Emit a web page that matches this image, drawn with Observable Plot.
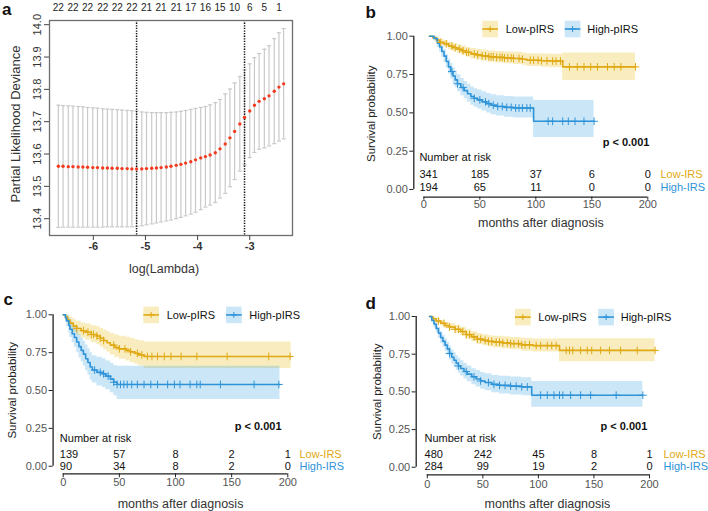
<!DOCTYPE html>
<html><head><meta charset="utf-8">
<script src="https://cdn.jsdelivr.net/npm/d3@7"></script>
<script src="https://cdn.jsdelivr.net/npm/@observablehq/plot@0.6"></script>
<style>
body{margin:0;background:#fff;}
#root{position:relative;width:708px;height:511px;overflow:hidden;font-family:"Liberation Sans",Arial,sans-serif;}
.abs{position:absolute;}
.abs svg{overflow:visible;max-width:none;}
</style></head><body><div id="root"></div>
<script>
// ---------- Panel a: LASSO cross-validation ----------
const logLambda = [-6.67,-6.58,-6.48,-6.39,-6.29,-6.20,-6.11,-6.01,-5.92,-5.82,-5.73,-5.64,-5.54,-5.45,-5.35,-5.26,-5.17,-5.07,-4.98,-4.88,-4.79,-4.70,-4.60,-4.51,-4.41,-4.32,-4.23,-4.13,-4.04,-3.94,-3.85,-3.76,-3.66,-3.57,-3.47,-3.38,-3.29,-3.19,-3.10,-3.00,-2.91,-2.82,-2.72,-2.63,-2.53,-2.44,-2.35];
const cvm = [13.562,13.562,13.561,13.561,13.560,13.560,13.559,13.558,13.558,13.557,13.557,13.556,13.556,13.555,13.555,13.554,13.554,
  13.554,13.555,13.556,13.557,13.558,13.560,13.562,13.565,13.568,13.572,13.576,13.582,13.588,13.592,13.597,13.604,13.616,13.631,13.650,13.670,13.693,13.713,13.733,13.751,13.763,13.771,13.780,13.794,13.807,13.817];
const cvup = [13.751,13.750,13.749,13.748,13.747,13.746,13.744,13.743,13.742,13.740,13.739,13.738,13.737,13.736,13.735,13.734,13.733,
  13.730,13.729,13.728,13.728,13.728,13.728,13.729,13.730,13.732,13.735,13.738,13.741,13.744,13.747,13.752,13.759,13.769,13.786,13.801,13.820,13.840,13.861,13.879,13.898,13.911,13.924,13.935,13.957,13.975,13.988];
const cvlo = [13.373,13.374,13.374,13.374,13.374,13.374,13.374,13.374,13.374,13.374,13.375,13.375,13.375,13.375,13.375,13.375,13.376,
  13.378,13.381,13.384,13.387,13.390,13.393,13.396,13.400,13.404,13.409,13.414,13.420,13.428,13.436,13.442,13.450,13.464,13.478,13.499,13.521,13.547,13.566,13.589,13.605,13.615,13.619,13.625,13.632,13.640,13.647];
const nzLabels = [22,22,22,22,22,22,21,21,21,17,16,15,10,6,5,1];
const nzIndex = [0,3,6,9,12,15,18,21,24,27,30,33,36,39,42,45];
const lambdaMin = -5.17, lambda1se = -3.10;
const yTicksA = [13.4,13.5,13.6,13.7,13.8,13.9,14.0];
const xTicksA = [-6,-5,-4,-3];

// ---------- Panels b-d: Kaplan-Meier ----------
const groups = ["Low-pIRS","High-pIRS"];
const riskGroups = ["Low-IRS","High-IRS"];
const riskTimes = [0,50,100,150,200];
const yTicksKM = [0,0.25,0.5,0.75,1];
const xTicksKM = [0,50,100,150,200];

// b
const bLowT  = [5,8,11,14,18,22,26,30,34,38,42,47,52,58,64,72,80,88,92,105,112,124,189];
const bLowS  = [1,.99,.975,.96,.95,.935,.925,.915,.905,.895,.885,.878,.872,.866,.862,.858,.855,.85,.843,.84,.838,.80,.80];
const bLowLo = [1,.979,.959,.941,.929,.911,.899,.887,.875,.864,.852,.844,.837,.83,.825,.82,.816,.81,.802,.798,.795,.711,.711];
const bLowUp = [1,1,.991,.98,.972,.96,.952,.944,.936,.927,.919,.913,.908,.903,.9,.897,.895,.891,.886,.884,.883,.891,.891];
const bLowCensor = [15,20,25,28,32,35,38,40,45,48,52,55,58,60,62,65,68,70,72,75,78,80,85,88,95,98,102,105,110,115,118,122,130,137,143,149,155,164,170,176,189];
const bHighT  = [5,9,12,14,16,18,20,22,24,26,28,30,33,36,39,42,45,48,52,56,60,65,72,80,98,152];
const bHighS  = [1,.985,.955,.93,.9,.87,.835,.8,.77,.74,.715,.69,.665,.645,.625,.607,.595,.585,.572,.56,.55,.542,.536,.532,.445,.445];
const bHighLo = [1,.968,.926,.897,.863,.829,.791,.753,.721,.69,.663,.637,.611,.59,.569,.55,.537,.526,.512,.499,.488,.479,.472,.467,.34,.34];
const bHighUp = [1,1,.985,.964,.938,.912,.881,.849,.822,.794,.771,.748,.724,.705,.686,.669,.658,.649,.637,.627,.618,.611,.606,.603,.58,.58];
const bHighCensor = [25,30,35,45,50,55,58,62,66,70,74,78,82,85,88,92,95,111,115,124,129,135,143,152];
const bRiskLow = [341,185,37,6,0];
const bRiskHigh = [194,65,11,0,0];

// c
const cLowT  = [0,2,4,6,9,12,16,20,25,30,33,36,39,42,46,50,56,60,64,67,72,203];
const cLowS  = [1,.985,.965,.945,.925,.91,.895,.885,.87,.86,.845,.83,.815,.8,.785,.775,.765,.755,.745,.735,.725,.725];
const cLowLo = [1,.965,.935,.91,.883,.865,.846,.833,.815,.803,.786,.769,.752,.735,.718,.707,.695,.684,.673,.662,.645,.645];
const cLowUp = [1,1,.995,.982,.968,.957,.946,.939,.928,.921,.91,.899,.888,.877,.866,.859,.851,.843,.836,.828,.82,.82];
const cLowCensor = [12,18,22,25,27,30,33,36,45,50,55,60,66,70,75,79,84,90,96,105,119,146,183,202];
const cHighT  = [0,2,3,5,6,8,10,12,14,16,18,20,22,24,26,30,35,38,42,45,48,193];
const cHighS  = [1,.98,.96,.93,.905,.875,.85,.82,.79,.765,.74,.71,.685,.655,.635,.62,.61,.595,.575,.555,.54,.54];
const cHighLo = [1,.95,.92,.88,.85,.815,.785,.75,.715,.69,.66,.63,.6,.57,.55,.53,.52,.505,.485,.465,.44,.44];
const cHighUp = [1,1,1,.98,.965,.94,.92,.895,.87,.845,.825,.8,.775,.75,.73,.72,.71,.695,.68,.665,.661,.661];
const cHighCensor = [28,33,36,40,45,48,51,54,57,61,66,72,78,84,93,99,104,113,119,122,140,170,192];
const cRiskLow = [139,57,8,2,1];
const cRiskHigh = [90,34,8,2,0];

// d
const dLowT  = [2,5,8,12,16,20,25,30,35,40,45,50,55,60,68,75,85,95,119,205];
const dLowS  = [1,.985,.97,.955,.94,.93,.915,.9,.88,.865,.85,.842,.835,.83,.825,.82,.812,.807,.775,.775];
const dLowLo = [1,.974,.955,.937,.919,.907,.889,.872,.849,.832,.815,.806,.797,.791,.785,.779,.77,.764,.70,.70];
const dLowUp = [1,.996,.985,.973,.961,.953,.941,.929,.912,.899,.887,.879,.873,.869,.865,.861,.855,.851,.852,.852];
const dLowCensor = [10,15,20,25,28,32,35,38,42,45,48,52,55,58,62,65,68,72,75,78,82,85,88,92,98,102,108,112,116,125,128,131,138,144,148,156,164,174,189,205];
const dHighT  = [2,4,6,8,10,12,14,16,18,20,22,24,26,28,30,33,36,40,44,48,52,58,65,75,85,94,194];
const dHighS  = [1,.975,.95,.92,.89,.86,.835,.81,.785,.755,.73,.71,.69,.672,.655,.635,.618,.6,.585,.572,.562,.55,.543,.538,.533,.478,.478];
const dHighLo = [1,.957,.925,.89,.856,.823,.796,.769,.742,.711,.685,.664,.643,.624,.606,.585,.567,.548,.532,.518,.507,.494,.486,.48,.474,.398,.398];
const dHighUp = [1,.993,.975,.95,.925,.899,.876,.853,.83,.802,.778,.759,.74,.723,.707,.688,.671,.654,.641,.629,.62,.609,.603,.598,.593,.569,.569];
const dHighCensor = [20,28,35,42,48,55,60,65,70,75,80,85,90,102,108,114,119,122,129,138,147,170,194];
const dRiskLow = [480,242,45,8,1];
const dRiskHigh = [284,99,19,2,0];

// ---------- styling ----------
const FONT = "Liberation Sans, Arial, Helvetica, sans-serif";
const LOW = "#E0A912", HIGH = "#2E93D8";
const LOWF = "#E7B800", HIGHF = "#2E9FDF";
const BASE = {background:"transparent", fontFamily: FONT, overflow:"visible"};
const root = document.getElementById("root");
function place(el, left, top){ const d=document.createElement("div"); d.className="abs"; d.style.left=left+"px"; d.style.top=top+"px"; d.appendChild(el); root.appendChild(d); }

// Panel a
const cvRows = logLambda.map((x,i)=>({x, m:cvm[i], up:cvup[i], lo:cvlo[i]}));
const nzRows = nzLabels.map((n,k)=>({x:logLambda[nzIndex[k]], n}));
const capSymbol = {draw(ctx,size){const w=Math.sqrt(size); ctx.moveTo(-w,0); ctx.lineTo(w,0);}};
const plotA = Plot.plot({
  width:300, height:280, marginLeft:49, marginRight:8, marginTop:20, marginBottom:45,
  x:{domain:[-6.84,-2.18]}, y:{domain:[13.348,14.013]},
  style:BASE,
  marks:[
    Plot.ruleX(cvRows,{x:"x",y1:"lo",y2:"up",stroke:"#c9c9c9",strokeWidth:1.2}),
    Plot.dot(cvRows,{x:"x",y:"up",symbol:capSymbol,r:1.15,stroke:"#c9c9c9",fill:"none",strokeWidth:1.2}),
    Plot.dot(cvRows,{x:"x",y:"lo",symbol:capSymbol,r:1.15,stroke:"#c9c9c9",fill:"none",strokeWidth:1.2}),
    Plot.ruleX([lambdaMin,lambda1se],{stroke:"#111",strokeWidth:1.5,strokeDasharray:"1.3 1.3"}),
    Plot.dot(cvRows,{x:"x",y:"m",r:1.7,fill:"#f23b1f",stroke:null}),
    Plot.frame({stroke:"#6e6e6e",strokeWidth:1.3}),
    Plot.axisY(yTicksA,{tickSize:5,tickFormat:()=>"",label:null,stroke:"#444"}),
    Plot.text(yTicksA,{x:-6.84,y:d=>d,text:d=>d.toFixed(1),rotate:-90,dx:-12.5,textAnchor:"middle",lineAnchor:"middle",fontSize:11,fill:"#333"}),
    Plot.axisX(xTicksA,{tickSize:5,tickPadding:1.5,tickFormat:d=>String(d),label:null,fontSize:11,fontWeight:"bold",fill:"#333",stroke:"#444"}),
    Plot.text(nzRows,{x:"x",text:"n",frameAnchor:"top",lineAnchor:"middle",dy:-12.5,fontSize:10,fill:"#222"}),
    Plot.text(["Partial Likelihood Deviance"],{text:d=>d,frameAnchor:"left",rotate:-90,dx:-34,dy:-4,textAnchor:"middle",lineAnchor:"middle",fontSize:13,fill:"#333"}),
    Plot.text(["log(Lambda)"],{text:d=>d,frameAnchor:"bottom",lineAnchor:"middle",dy:33,dx:-7,fontSize:12.5,fill:"#333"})
  ]
});
place(plotA,0,0);

// KM helper
function steps(t,s,lo,up){ return t.map((d,i)=>({t:d,s:s[i],lo:lo[i],up:up[i]})); }
function censorRows(times,rows){ const ts=rows.map(r=>r.t); return times.map(c=>{let k=d3.bisectRight(ts,c)-1; if(k<0)k=0; return {t:c,s:rows[k].s};}); }
function km(c){
  const low=steps(c.lowT,c.lowS,c.lowLo,c.lowUp), high=steps(c.highT,c.highS,c.highLo,c.highUp);
  const lowC=censorRows(c.lowCensor,low), highC=censorRows(c.highCensor,high);
  const rl=riskTimes.map((t,i)=>({t,n:c.riskLow[i]})), rh=riskTimes.map((t,i)=>({t,n:c.riskHigh[i]}));
  const num = {fontSize:11, fill:"#111"};
  return Plot.plot({
    width:c.w, height:c.h, marginLeft:c.ml, marginRight:c.mr, marginTop:c.mt, marginBottom:c.mb,
    x:{domain:c.xDomain}, y:{domain:[-0.05,1]}, style:BASE,
    marks:[
      Plot.areaY(low,{x:"t",y1:"lo",y2:"up",curve:"step-after",fill:LOWF,fillOpacity:0.25}),
      Plot.areaY(high,{x:"t",y1:"lo",y2:"up",curve:"step-after",fill:HIGHF,fillOpacity:0.25}),
      Plot.line(low,{x:"t",y:"s",curve:"step-after",stroke:LOW,strokeWidth:1.6}),
      Plot.line(high,{x:"t",y:"s",curve:"step-after",stroke:HIGH,strokeWidth:1.6}),
      Plot.dot(lowC,{x:"t",y:"s",symbol:"plus",r:2.6,stroke:LOW,strokeWidth:1}),
      Plot.dot(highC,{x:"t",y:"s",symbol:"plus",r:2.6,stroke:HIGH,strokeWidth:1}),
      Plot.ruleX([c.xDomain[0]],{y1:0,y2:1,stroke:"#222",strokeWidth:1.3}),
      Plot.ruleY([-0.05],{x1:0,x2:200,stroke:"#222",strokeWidth:1.3}),
      Plot.axisY(yTicksKM,{tickSize:4,tickPadding:2,tickFormat:d3.format(".2f"),label:null,fontSize:11,fill:"#555",stroke:"#222"}),
      Plot.axisX(xTicksKM,{tickSize:c.xts,tickPadding:c.xtp,label:null,fontSize:11,fill:"#555",stroke:"#222"}),
      Plot.text(["Survival probability"],{text:d=>d,frameAnchor:"left",rotate:-90,dx:c.ylDx,dy:c.ylDy,textAnchor:"middle",lineAnchor:"middle",fontSize:11.5,fill:"#222"}),
      Plot.text(["months after diagnosis"],{text:d=>d,x:100,frameAnchor:"bottom",lineAnchor:"middle",dy:c.titleDy,dx:c.titleDx,fontSize:12.5,fill:"#333"}),
      Plot.text(["Number at risk"],{text:d=>d,x:c.narX,y:c.narY,textAnchor:"start",...num}),
      // first column of the risk table is left-aligned with the "Number at risk" heading
      Plot.text(rl.slice(0,1),{x:c.narX,y:c.row1,text:"n",textAnchor:"start",...num}),
      Plot.text(rh.slice(0,1),{x:c.narX,y:c.row2,text:"n",textAnchor:"start",...num}),
      Plot.text(rl.slice(1),{x:"t",y:c.row1,text:"n",...num}),
      Plot.text(rh.slice(1),{x:"t",y:c.row2,text:"n",...num}),
      Plot.text([riskGroups[0]],{text:d=>d,x:c.grpX,y:c.row1,textAnchor:"start",fill:LOW,fontSize:11}),
      Plot.text([riskGroups[1]],{text:d=>d,x:c.grpX,y:c.row2,textAnchor:"start",fill:HIGH,fontSize:11}),
      Plot.text(["p < 0.001"],{text:d=>d,x:c.pX,y:c.pY,textAnchor:"end",fontWeight:"bold",fontSize:11,fill:"#111"})
    ]
  });
}

place(km({w:354,h:240,ml:59.3,mr:60.7,mt:35.7,mb:43.3,xDomain:[-9,200],
  lowT:bLowT,lowS:bLowS,lowLo:bLowLo,lowUp:bLowUp,lowCensor:bLowCensor,
  highT:bHighT,highS:bHighS,highLo:bHighLo,highUp:bHighUp,highCensor:bHighCensor,
  riskLow:bRiskLow,riskHigh:bRiskHigh,
  narX:-4,narY:0.21,row1:0.098,row2:0.015,pX:201.5,pY:0.309,grpX:211.3,ylDx:-42.6,ylDy:-3,titleDy:26,titleDx:5,xts:3,xtp:0}),354,0);

place(km({w:354,h:256,ml:52.6,mr:66.7,mt:59.3,mb:37.7,xDomain:[-9,200],
  lowT:cLowT,lowS:cLowS,lowLo:cLowLo,lowUp:cLowUp,lowCensor:cLowCensor,
  highT:cHighT,highS:cHighS,highLo:cHighLo,highUp:cHighUp,highCensor:cHighCensor,
  riskLow:cRiskLow,riskHigh:cRiskHigh,
  narX:-3,narY:0.186,row1:0.077,row2:-0.002,pX:194.4,pY:0.264,grpX:210.4,ylDx:-40.3,ylDy:-4,titleDy:30,titleDx:5,xts:4,xtp:0}),0,255);

place(km({w:354,h:256,ml:61.7,mr:59,mt:61,mb:36.7,xDomain:[-10,200],
  lowT:dLowT,lowS:dLowS,lowLo:dLowLo,lowUp:dLowUp,lowCensor:dLowCensor,
  highT:dHighT,highS:dHighS,highLo:dHighLo,highUp:dHighUp,highCensor:dHighCensor,
  riskLow:dRiskLow,riskHigh:dRiskHigh,
  narX:-2.5,narY:0.192,row1:0.084,row2:0.005,pX:198,pY:0.272,grpX:212.6,ylDx:-38.4,ylDy:-4,titleDy:29,titleDx:9,xts:4,xtp:1}),354,255);

// ---------- overlay: panel letters and legends ----------
const legends = [
  {y:20.7, base:33, items:[{sx:482.3,tx:505.7},{sx:564.7,tx:587.3}]},
  {y:306.6, base:319, items:[{sx:143.3,tx:166.7},{sx:226,tx:249.3}]},
  {y:308.8, base:320.8, items:[{sx:515,tx:538.3},{sx:598.3,tx:620.7}]}
];
const letters = [{t:"a",x:2,y:15},{t:"b",x:365.5,y:17.5},{t:"c",x:3.5,y:305},{t:"d",x:365.5,y:308.5}];
const lineCols=[LOW,HIGH], fillCols=[LOWF,HIGHF];
let s = `<svg width="708" height="511" xmlns="http://www.w3.org/2000/svg" style="font-family:${FONT}">`;
letters.forEach(l=>{ s+=`<text x="${l.x}" y="${l.y}" font-size="17" font-weight="bold" fill="#111">${l.t}</text>`; });
legends.forEach(L=>{
  L.items.forEach((it,k)=>{
    const w=15.7,h=16.6,cy=L.y+h/2,cx=it.sx+w/2;
    s+=`<rect x="${it.sx}" y="${L.y}" width="${w}" height="${h}" fill="${fillCols[k]}" fill-opacity="0.25"/>`;
    s+=`<line x1="${it.sx}" x2="${it.sx+w}" y1="${cy}" y2="${cy}" stroke="${lineCols[k]}" stroke-width="1.6"/>`;
    s+=`<path d="M${cx},${cy-3}V${cy+3}M${cx-3},${cy}H${cx+3}" stroke="${lineCols[k]}" stroke-width="1"/>`;
    s+=`<text x="${it.tx}" y="${L.base}" font-size="11" fill="#111">${groups[k]}</text>`;
  });
});
s+=`</svg>`;
const ov=document.createElement("div"); ov.className="abs"; ov.style.left="0px"; ov.style.top="0px"; ov.style.pointerEvents="none"; ov.innerHTML=s; root.appendChild(ov);
</script></body></html>
